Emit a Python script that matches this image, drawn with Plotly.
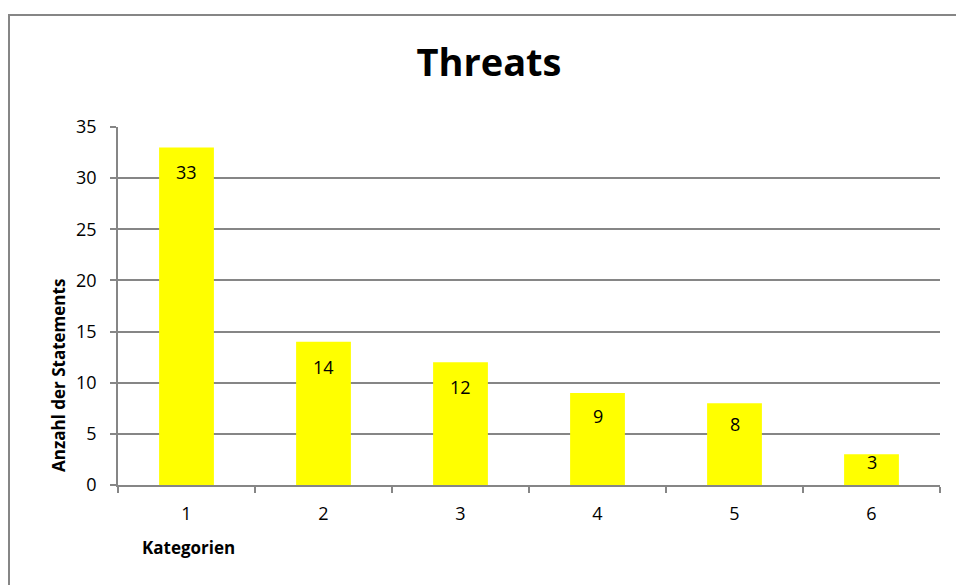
import plotly.graph_objects as go

# Statement counts per category
categories = ["1", "2", "3", "4", "5", "6"]
counts = [33, 14, 12, 9, 8, 3]
y_ticks = [0, 5, 10, 15, 20, 25, 30, 35]

title_text = "Threats"
y_title = "Anzahl der Statements"
x_title = "Kategorien"

W, H = 956, 585
M_L, M_R, M_T, M_B = 118, 16, 127, 100
plot_w = W - M_L - M_R
plot_h = H - M_T - M_B
y_max = 35

FONT = "Open Sans, Lato, Arial, sans-serif"
GRAY = "#868686"

fig = go.Figure(
    go.Bar(
        x=categories,
        y=counts,
        marker=dict(color="#FFFF00", line=dict(width=0)),
        width=0.4,
        hoverinfo="x+y",
    )
)

# value labels placed just inside the top of each bar
px_per_unit = plot_h / y_max
for idx, val in enumerate(counts):
    bar_px = val * px_per_unit
    shift = min(25, bar_px / 4)
    fig.add_annotation(
        x=idx, y=val, xref="x", yref="y",
        text=str(val), showarrow=False,
        yanchor="middle", yshift=-shift,
        font=dict(family=FONT, size=18, color="black"),
    )

# rotated y title and the category caption
fig.add_annotation(
    x=(58 - M_L) / plot_w, y=(H - M_B - 376) / plot_h,
    xref="paper", yref="paper", text=f"<b>{y_title}</b>",
    showarrow=False, textangle=-90, xanchor="center", yanchor="middle",
    font=dict(family=FONT, size=17, color="black"),
)
fig.add_annotation(
    x=(188 - M_L) / plot_w, y=(H - M_B - 547) / plot_h,
    xref="paper", yref="paper", text=f"<b>{x_title}</b>",
    showarrow=False, xanchor="center", yanchor="middle",
    font=dict(family=FONT, size=17, color="black"),
)

# chart-area frame
fig.add_shape(
    type="rect", xref="paper", yref="paper",
    x0=(9 - M_L) / plot_w, x1=(975 - M_L) / plot_w,
    y0=(H - M_B - 600) / plot_h, y1=(H - M_B - 15) / plot_h,
    line=dict(color=GRAY, width=2), fillcolor="rgba(0,0,0,0)", layer="below",
)

fig.update_layout(
    width=W, height=H,
    margin=dict(l=M_L, r=M_R, t=M_T, b=M_B),
    paper_bgcolor="white", plot_bgcolor="white",
    showlegend=False,
    title=dict(
        text=f"<b>{title_text}</b>",
        x=489 / W, xref="container", xanchor="center",
        y=(H - 63) / H, yref="container", yanchor="middle",
        font=dict(family=FONT, size=38, color="black"),
    ),
    font=dict(family=FONT, size=18, color="black"),
)

fig.update_xaxes(
    type="category",
    range=[-0.5, len(categories) - 0.5],
    tickson="boundaries",
    ticks="outside", ticklen=6, tickcolor=GRAY, tickwidth=1.5,
    showline=True, linecolor=GRAY, linewidth=1.5,
    showgrid=False,
    ticklabelstandoff=12,
    tickfont=dict(family=FONT, size=18, color="black"),
)

fig.update_yaxes(
    range=[0, y_max],
    tickvals=y_ticks,
    ticks="outside", ticklen=6, tickcolor=GRAY, tickwidth=1.5,
    showline=True, linecolor=GRAY, linewidth=1.5,
    showgrid=True, gridcolor=GRAY, gridwidth=1.5,
    zeroline=False,
    ticklabelstandoff=10,
    tickfont=dict(family=FONT, size=18, color="black"),
)

fig.write_html("out.html")
